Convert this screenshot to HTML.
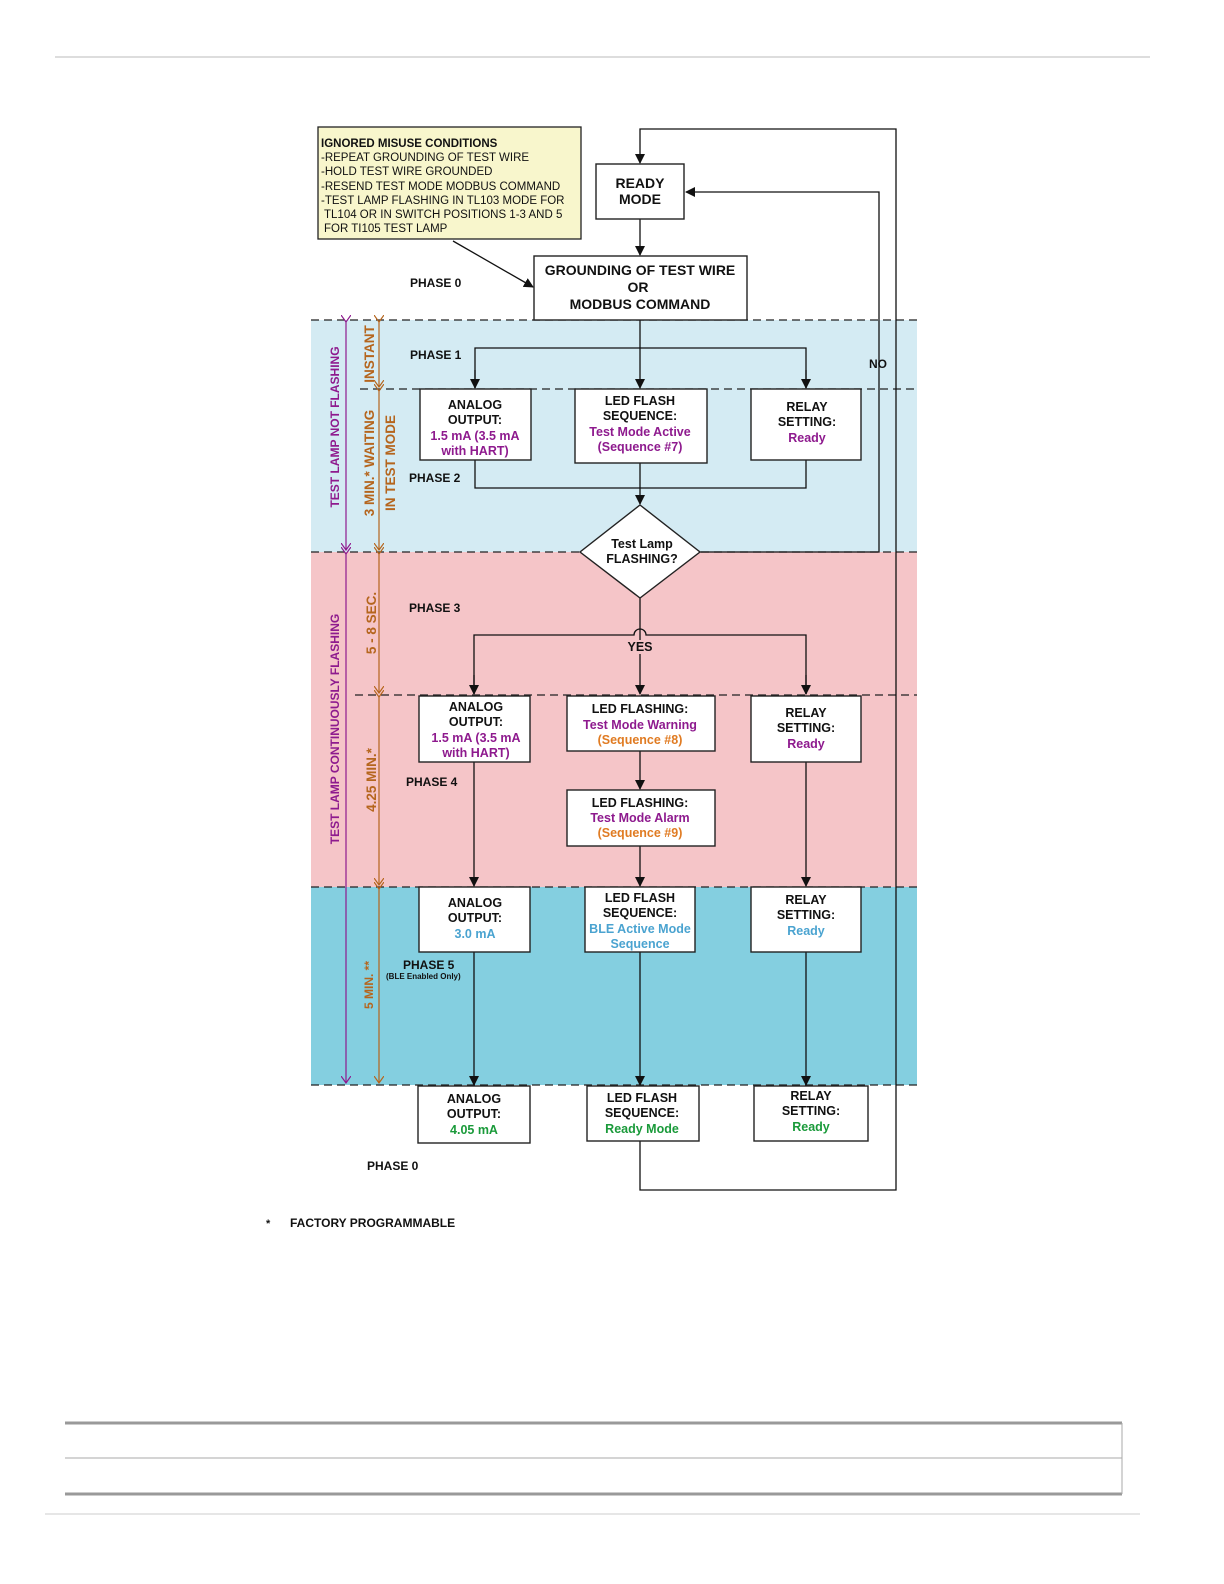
<!DOCTYPE html>
<html><head><meta charset="utf-8"><style>
html,body{margin:0;padding:0;background:#fff;width:1224px;height:1584px;overflow:hidden;}
svg{display:block;position:absolute;left:0;top:0;}
text{font-family:"Liberation Sans",Arial,sans-serif;font-weight:bold;font-size:12.5px;fill:#111;}
text.n{font-weight:normal;font-size:11.5px;}
.p{fill:#8e1a8e;}
.o{fill:#e07b22;}
.b{fill:#4aa3d0;}
.g{fill:#1a9a3a;}
.br{fill:#b5651d;}
</style></head><body>
<svg width="1224" height="1584" viewBox="0 0 1224 1584" xmlns="http://www.w3.org/2000/svg">
<defs>
<marker id="a" markerWidth="10" markerHeight="10" refX="9" refY="5" orient="auto" markerUnits="userSpaceOnUse"><path d="M0,0 L10,5 L0,10 z" fill="#111"/></marker>
<marker id="pa" markerWidth="8" markerHeight="10" refX="7" refY="5" orient="auto" markerUnits="userSpaceOnUse"><path d="M0,0 L7,5 L0,10" fill="none" stroke="#8e1a8e" stroke-width="1.2"/></marker>
<marker id="oa" markerWidth="8" markerHeight="10" refX="7" refY="5" orient="auto" markerUnits="userSpaceOnUse"><path d="M0,0 L7,5 L0,10" fill="none" stroke="#b5651d" stroke-width="1.2"/></marker>
</defs>
<line x1="55" y1="57" x2="1150" y2="57" stroke="#bbb" stroke-width="1"/>

<rect x="311" y="320" width="606" height="232" fill="#d4ebf3"/>
<rect x="311" y="552" width="606" height="335" fill="#f5c5c8"/>
<rect x="311" y="887" width="606" height="198" fill="#84cfe0"/>
<g stroke="#222" stroke-width="1.3" stroke-dasharray="8,5">
<line x1="311" y1="320" x2="917" y2="320"/>
<line x1="360" y1="389" x2="917" y2="389"/>
<line x1="311" y1="552" x2="917" y2="552"/>
<line x1="355" y1="695" x2="917" y2="695"/>
<line x1="311" y1="887" x2="917" y2="887"/>
<line x1="311" y1="1085" x2="917" y2="1085"/>
</g>

<g stroke="#8e1a8e" stroke-width="1.2">
<line x1="346" y1="322" x2="346" y2="550" marker-end="url(#pa)" marker-start="url(#pa)"/>
<line x1="346" y1="554" x2="346" y2="1083" marker-end="url(#pa)" marker-start="url(#pa)"/>
</g>
<g stroke="#b5651d" stroke-width="1.2">
<line x1="379" y1="322" x2="379" y2="387" marker-end="url(#oa)" marker-start="url(#oa)"/>
<line x1="379" y1="391" x2="379" y2="550" marker-end="url(#oa)" marker-start="url(#oa)"/>
<line x1="379" y1="554" x2="379" y2="693" marker-end="url(#oa)" marker-start="url(#oa)"/>
<line x1="379" y1="697" x2="379" y2="885" marker-end="url(#oa)" marker-start="url(#oa)"/>
<line x1="379" y1="889" x2="379" y2="1083" marker-end="url(#oa)" marker-start="url(#oa)"/>
</g>
<text class="p" transform="translate(339,427) rotate(-90)" text-anchor="middle" style="font-size:12px">TEST LAMP NOT FLASHING</text>
<text class="p" transform="translate(339,729) rotate(-90)" text-anchor="middle" style="font-size:12px">TEST LAMP CONTINUOUSLY FLASHING</text>
<text class="br" transform="translate(374,354) rotate(-90)" text-anchor="middle" style="font-size:13.5px">INSTANT</text>
<text class="br" transform="translate(374,463) rotate(-90)" text-anchor="middle" style="font-size:13.5px">3 MIN.* WAITING</text>
<text class="br" transform="translate(395,463) rotate(-90)" text-anchor="middle" style="font-size:13.5px">IN TEST MODE</text>
<text class="br" transform="translate(376,623) rotate(-90)" text-anchor="middle" style="font-size:13.5px">5 - 8 SEC.</text>
<text class="br" transform="translate(376,780) rotate(-90)" text-anchor="middle" style="font-size:13.5px">4.25 MIN.*</text>
<text class="br" transform="translate(373,985) rotate(-90)" text-anchor="middle" style="font-size:12px">5 MIN. **</text>

<rect x="318" y="127" width="263" height="112" fill="#f8f6cc" stroke="#222" stroke-width="1.3"/>
<text x="321" y="147" style="font-size:11.5px">IGNORED MISUSE CONDITIONS</text>
<text class="n" x="321" y="161">-REPEAT GROUNDING OF TEST WIRE</text>
<text class="n" x="321" y="175">-HOLD TEST WIRE GROUNDED</text>
<text class="n" x="321" y="190">-RESEND TEST MODE MODBUS COMMAND</text>
<text class="n" x="321" y="204">-TEST LAMP FLASHING IN TL103 MODE FOR</text>
<text class="n" x="324" y="218">TL104 OR IN SWITCH POSITIONS 1-3 AND 5</text>
<text class="n" x="324" y="232">FOR TI105 TEST LAMP</text>
<line x1="453" y1="241" x2="533" y2="287" stroke="#111" stroke-width="1.3" marker-end="url(#a)"/>

<g stroke="#111" stroke-width="1.3" fill="none">
<polyline points="640,1141 640,1190 896,1190 896,129 640,129 640,163" marker-end="url(#a)"/>
<polyline points="700,552 879,552 879,192 686,192" marker-end="url(#a)"/>
<line x1="640" y1="219" x2="640" y2="255" marker-end="url(#a)"/>
<line x1="640" y1="320" x2="640" y2="388" marker-end="url(#a)"/>
<polyline points="475,388 475,348 806,348 806,388"/>
<line x1="475" y1="370" x2="475" y2="388" marker-end="url(#a)"/>
<line x1="806" y1="370" x2="806" y2="388" marker-end="url(#a)"/>
<polyline points="475,460 475,488 806,488 806,460"/>
<line x1="640" y1="463" x2="640" y2="504" marker-end="url(#a)"/>
<line x1="640" y1="598" x2="640" y2="640"/>
<path d="M474,694 L474,635 L634,635 A6,6 0 0 1 646,635 L806,635 L806,694"/>
<line x1="474" y1="675" x2="474" y2="694" marker-end="url(#a)"/>
<line x1="806" y1="675" x2="806" y2="694" marker-end="url(#a)"/>
<line x1="640" y1="654" x2="640" y2="694" marker-end="url(#a)"/>
<line x1="640" y1="751" x2="640" y2="789" marker-end="url(#a)"/>
<line x1="474" y1="762" x2="474" y2="886" marker-end="url(#a)"/>
<line x1="640" y1="846" x2="640" y2="886" marker-end="url(#a)"/>
<line x1="806" y1="762" x2="806" y2="886" marker-end="url(#a)"/>
<line x1="474" y1="952" x2="474" y2="1085" marker-end="url(#a)"/>
<line x1="640" y1="952" x2="640" y2="1085" marker-end="url(#a)"/>
<line x1="806" y1="952" x2="806" y2="1085" marker-end="url(#a)"/>
</g>

<g fill="#fff" stroke="#222" stroke-width="1.4">
<rect x="596" y="164" width="88" height="55"/>
<rect x="534" y="256" width="213" height="64"/>
<rect x="420" y="389" width="111" height="71"/>
<rect x="575" y="389" width="132" height="74"/>
<rect x="751" y="389" width="110" height="71"/>
<polygon points="640,505 700,552 640,598 580,552"/>
<rect x="419" y="696" width="111" height="66"/>
<rect x="567" y="696" width="148" height="55"/>
<rect x="751" y="696" width="110" height="66"/>
<rect x="567" y="790" width="148" height="56"/>
<rect x="419" y="887" width="111" height="65"/>
<rect x="585" y="887" width="110" height="65"/>
<rect x="751" y="887" width="110" height="65"/>
<rect x="418" y="1086" width="112" height="57"/>
<rect x="587" y="1086" width="112" height="55"/>
<rect x="754" y="1086" width="114" height="55"/>
</g>

<g text-anchor="middle">
<text x="640" y="188" style="font-size:14px">READY</text>
<text x="640" y="204" style="font-size:14px">MODE</text>
<text x="640" y="275" style="font-size:14px">GROUNDING OF TEST WIRE</text>
<text x="638" y="292" style="font-size:14px">OR</text>
<text x="640" y="309" style="font-size:14px">MODBUS COMMAND</text>

<text x="475" y="409">ANALOG</text><text x="475" y="424">OUTPUT:</text>
<text class="p" x="475" y="440">1.5 mA (3.5 mA</text><text class="p" x="475" y="455">with HART)</text>
<text x="640" y="405">LED FLASH</text><text x="640" y="420">SEQUENCE:</text>
<text class="p" x="640" y="436">Test Mode Active</text><text class="p" x="640" y="451">(Sequence #7)</text>
<text x="807" y="411">RELAY</text><text x="807" y="426">SETTING:</text>
<text class="p" x="807" y="442">Ready</text>

<text x="642" y="548">Test Lamp</text><text x="642" y="563">FLASHING?</text>
<text x="640" y="651">YES</text>

<text x="476" y="711">ANALOG</text><text x="476" y="726">OUTPUT:</text>
<text class="p" x="476" y="742">1.5 mA (3.5 mA</text><text class="p" x="476" y="757">with HART)</text>
<text x="640" y="713">LED FLASHING:</text>
<text class="p" x="640" y="729">Test Mode Warning</text><text class="o" x="640" y="744">(Sequence #8)</text>
<text x="806" y="717">RELAY</text><text x="806" y="732">SETTING:</text>
<text class="p" x="806" y="748">Ready</text>
<text x="640" y="807">LED FLASHING:</text>
<text class="p" x="640" y="822">Test Mode Alarm</text><text class="o" x="640" y="837">(Sequence #9)</text>

<text x="475" y="907">ANALOG</text><text x="475" y="922">OUTPUT:</text>
<text class="b" x="475" y="938">3.0 mA</text>
<text x="640" y="902">LED FLASH</text><text x="640" y="917">SEQUENCE:</text>
<text class="b" x="640" y="933">BLE Active Mode</text><text class="b" x="640" y="948">Sequence</text>
<text x="806" y="904">RELAY</text><text x="806" y="919">SETTING:</text>
<text class="b" x="806" y="935">Ready</text>

<text x="474" y="1103">ANALOG</text><text x="474" y="1118">OUTPUT:</text>
<text class="g" x="474" y="1134">4.05 mA</text>
<text x="642" y="1102">LED FLASH</text><text x="642" y="1117">SEQUENCE:</text>
<text class="g" x="642" y="1133">Ready Mode</text>
<text x="811" y="1100">RELAY</text><text x="811" y="1115">SETTING:</text>
<text class="g" x="811" y="1131">Ready</text>
</g>

<text x="410" y="287" style="font-size:12px">PHASE 0</text>
<text x="410" y="359" style="font-size:12px">PHASE 1</text>
<text x="409" y="482" style="font-size:12px">PHASE 2</text>
<text x="409" y="612" style="font-size:12px">PHASE 3</text>
<text x="406" y="786" style="font-size:12px">PHASE 4</text>
<text x="403" y="969" style="font-size:12px">PHASE 5</text>
<text x="386" y="979" style="font-size:8px">(BLE Enabled Only)</text>
<text x="367" y="1170" style="font-size:12px">PHASE 0</text>
<text x="869" y="368" style="font-size:12px">NO</text>

<text x="266" y="1227" style="font-size:11px">*</text>
<text x="290" y="1227" style="font-size:12px">FACTORY PROGRAMMABLE</text>

<line x1="65" y1="1423" x2="1122" y2="1423" stroke="#999" stroke-width="3"/>
<line x1="65" y1="1458" x2="1122" y2="1458" stroke="#aaa" stroke-width="1"/>
<line x1="65" y1="1494" x2="1122" y2="1494" stroke="#999" stroke-width="3"/>
<line x1="1122" y1="1423" x2="1122" y2="1494" stroke="#aaa" stroke-width="1"/>
<line x1="45" y1="1514" x2="1140" y2="1514" stroke="#ccc" stroke-width="1"/>
</svg>
</body></html>
